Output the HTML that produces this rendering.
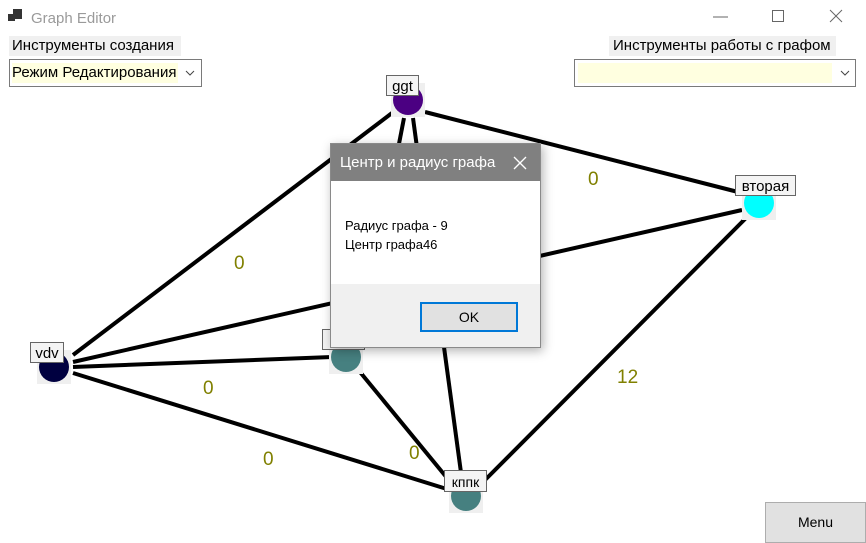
<!DOCTYPE html>
<html><head><meta charset="utf-8"><style>
html,body{margin:0;padding:0;width:866px;height:543px;overflow:hidden;background:#fff;font-family:"Segoe UI","Liberation Sans","DejaVu Sans",sans-serif;}
.abs{position:absolute;}
</style></head><body>
<svg class="abs" style="left:0;top:0" width="866" height="543" xmlns="http://www.w3.org/2000/svg">
<rect x="8" y="14" width="7" height="7" fill="#333"/><rect x="13" y="9" width="9" height="10" fill="#333"/>
<text x="31" y="23" font-family="Liberation Sans,sans-serif" font-size="15" fill="#9a9a9a">Graph Editor</text>
<line x1="713" y1="17" x2="728" y2="17" stroke="#666" stroke-width="1"/>
<rect x="772.5" y="10.5" width="11" height="11" fill="none" stroke="#666"/>
<line x1="830" y1="10" x2="842" y2="22" stroke="#666"/><line x1="842" y1="10" x2="830" y2="22" stroke="#666"/>
<g stroke="#000" stroke-width="4" stroke-linecap="butt">
<line x1="73" y1="355" x2="392" y2="113"/>
<line x1="404" y1="118" x2="360" y2="345"/>
<line x1="413" y1="118" x2="462" y2="480"/>
<line x1="425" y1="112" x2="742" y2="193"/>
<line x1="73" y1="362" x2="742" y2="210"/>
<line x1="73" y1="367" x2="332" y2="357"/>
<line x1="73" y1="373" x2="450" y2="490"/>
<line x1="360" y1="372" x2="452" y2="484"/>
<line x1="746" y1="218" x2="484" y2="481"/>
</g>
<g>
<rect x="391" y="83" width="34" height="34" fill="#efefef"/><circle cx="408" cy="100" r="15" fill="#4b0082"/>
<rect x="742" y="186" width="34" height="34" fill="#efefef"/><circle cx="759" cy="203" r="15" fill="#00ffff"/>
<rect x="37" y="350" width="34" height="34" fill="#efefef"/><circle cx="54" cy="367" r="15" fill="#000040"/>
<rect x="329" y="340" width="34" height="34" fill="#efefef"/><circle cx="346" cy="357" r="15" fill="#468080"/>
<rect x="449" y="479" width="34" height="34" fill="#efefef"/><circle cx="466" cy="496" r="15" fill="#468080"/>
</g>
<g font-family="Liberation Sans,sans-serif" font-size="15" fill="#000" text-anchor="middle">
<rect x="386.5" y="75.5" width="32" height="20" fill="#f4f4f4" stroke="#666"/><text x="402.5" y="91">ggt</text>
<rect x="735.5" y="175.5" width="60" height="20" fill="#f4f4f4" stroke="#666"/><text x="765.5" y="191">вторая</text>
<rect x="30.5" y="342.5" width="33" height="20" fill="#f4f4f4" stroke="#666"/><text x="47" y="358">vdv</text>
<rect x="322.5" y="329.5" width="42" height="20" fill="#f4f4f4" stroke="#666"/>
<rect x="444.5" y="470.5" width="42" height="21" fill="#f4f4f4" stroke="#666"/><text x="465.5" y="487" font-size="14">кппк</text>
</g>
<g font-family="Liberation Sans,sans-serif" font-size="19" fill="#808000">
<text x="234" y="269">0</text><text x="588" y="185">0</text><text x="203" y="394">0</text>
<text x="263" y="465">0</text><text x="409" y="459">0</text><text x="617" y="383">12</text>
</g>
</svg>
<div class="abs" style="left:9px;top:36px;width:172px;height:20px;background:#f0f0f0;font-size:15px;line-height:20px;padding-left:3px;box-sizing:border-box;font-family:'Liberation Sans',sans-serif;white-space:nowrap;">Инструменты создания</div>
<div class="abs" style="left:9px;top:59px;width:193px;height:28px;border:1px solid #7a7a7a;box-sizing:border-box;background:#fff;">
<div class="abs" style="left:2px;top:3px;width:166px;height:20px;background:#ffffe0;font-size:15px;line-height:20px;font-family:'Liberation Sans',sans-serif;white-space:nowrap;overflow:hidden;">Режим Редактирования</div>
<svg class="abs" style="left:175px;top:9px" width="10" height="8"><polyline points="1,2 5,6 9,2" fill="none" stroke="#444"/></svg></div>
<div class="abs" style="left:609px;top:36px;width:227px;height:20px;background:#f0f0f0;font-size:15px;line-height:20px;padding-left:4px;box-sizing:border-box;font-family:'Liberation Sans',sans-serif;white-space:nowrap;">Инструменты работы с графом</div>
<div class="abs" style="left:574px;top:59px;width:282px;height:28px;border:1px solid #7a7a7a;box-sizing:border-box;background:#fff;">
<div class="abs" style="left:3px;top:3px;width:254px;height:20px;background:#ffffe0;"></div>
<svg class="abs" style="left:265px;top:9px" width="10" height="8"><polyline points="1,2 5,6 9,2" fill="none" stroke="#444"/></svg></div>
<div class="abs" style="left:330px;top:143px;width:211px;height:205px;border:1px solid #8a8a8a;box-sizing:border-box;background:#fff;box-shadow:2px 3px 10px rgba(0,0,0,0.3);font-family:'Liberation Sans',sans-serif;">
<div class="abs" style="left:0;top:0;width:209px;height:37px;background:#808080;color:#fff;font-size:15px;line-height:37px;padding-left:9px;box-sizing:border-box;">Центр и радиус графа</div>
<svg class="abs" style="left:182px;top:12px" width="14" height="14"><line x1="1" y1="1" x2="13" y2="13" stroke="#fff" stroke-width="1.3"/><line x1="13" y1="1" x2="1" y2="13" stroke="#fff" stroke-width="1.3"/></svg>
<div class="abs" style="left:14px;top:72px;font-size:13px;line-height:19px;color:#000;">Радиус графа - 9<br>Центр графа46</div>
<div class="abs" style="left:0;top:140px;width:209px;height:63px;background:#f0f0f0;"></div>
<div class="abs" style="left:89px;top:158px;width:98px;height:30px;border:2px solid #0078d7;box-sizing:border-box;background:#e1e1e1;font-size:14px;text-align:center;line-height:26px;">OK</div>
</div>
<div class="abs" style="left:765px;top:502px;width:101px;height:41px;border:1px solid #adadad;box-sizing:border-box;background:#e1e1e1;font-size:14px;text-align:center;line-height:39px;font-family:'Liberation Sans',sans-serif;">Menu</div>
</body></html>
